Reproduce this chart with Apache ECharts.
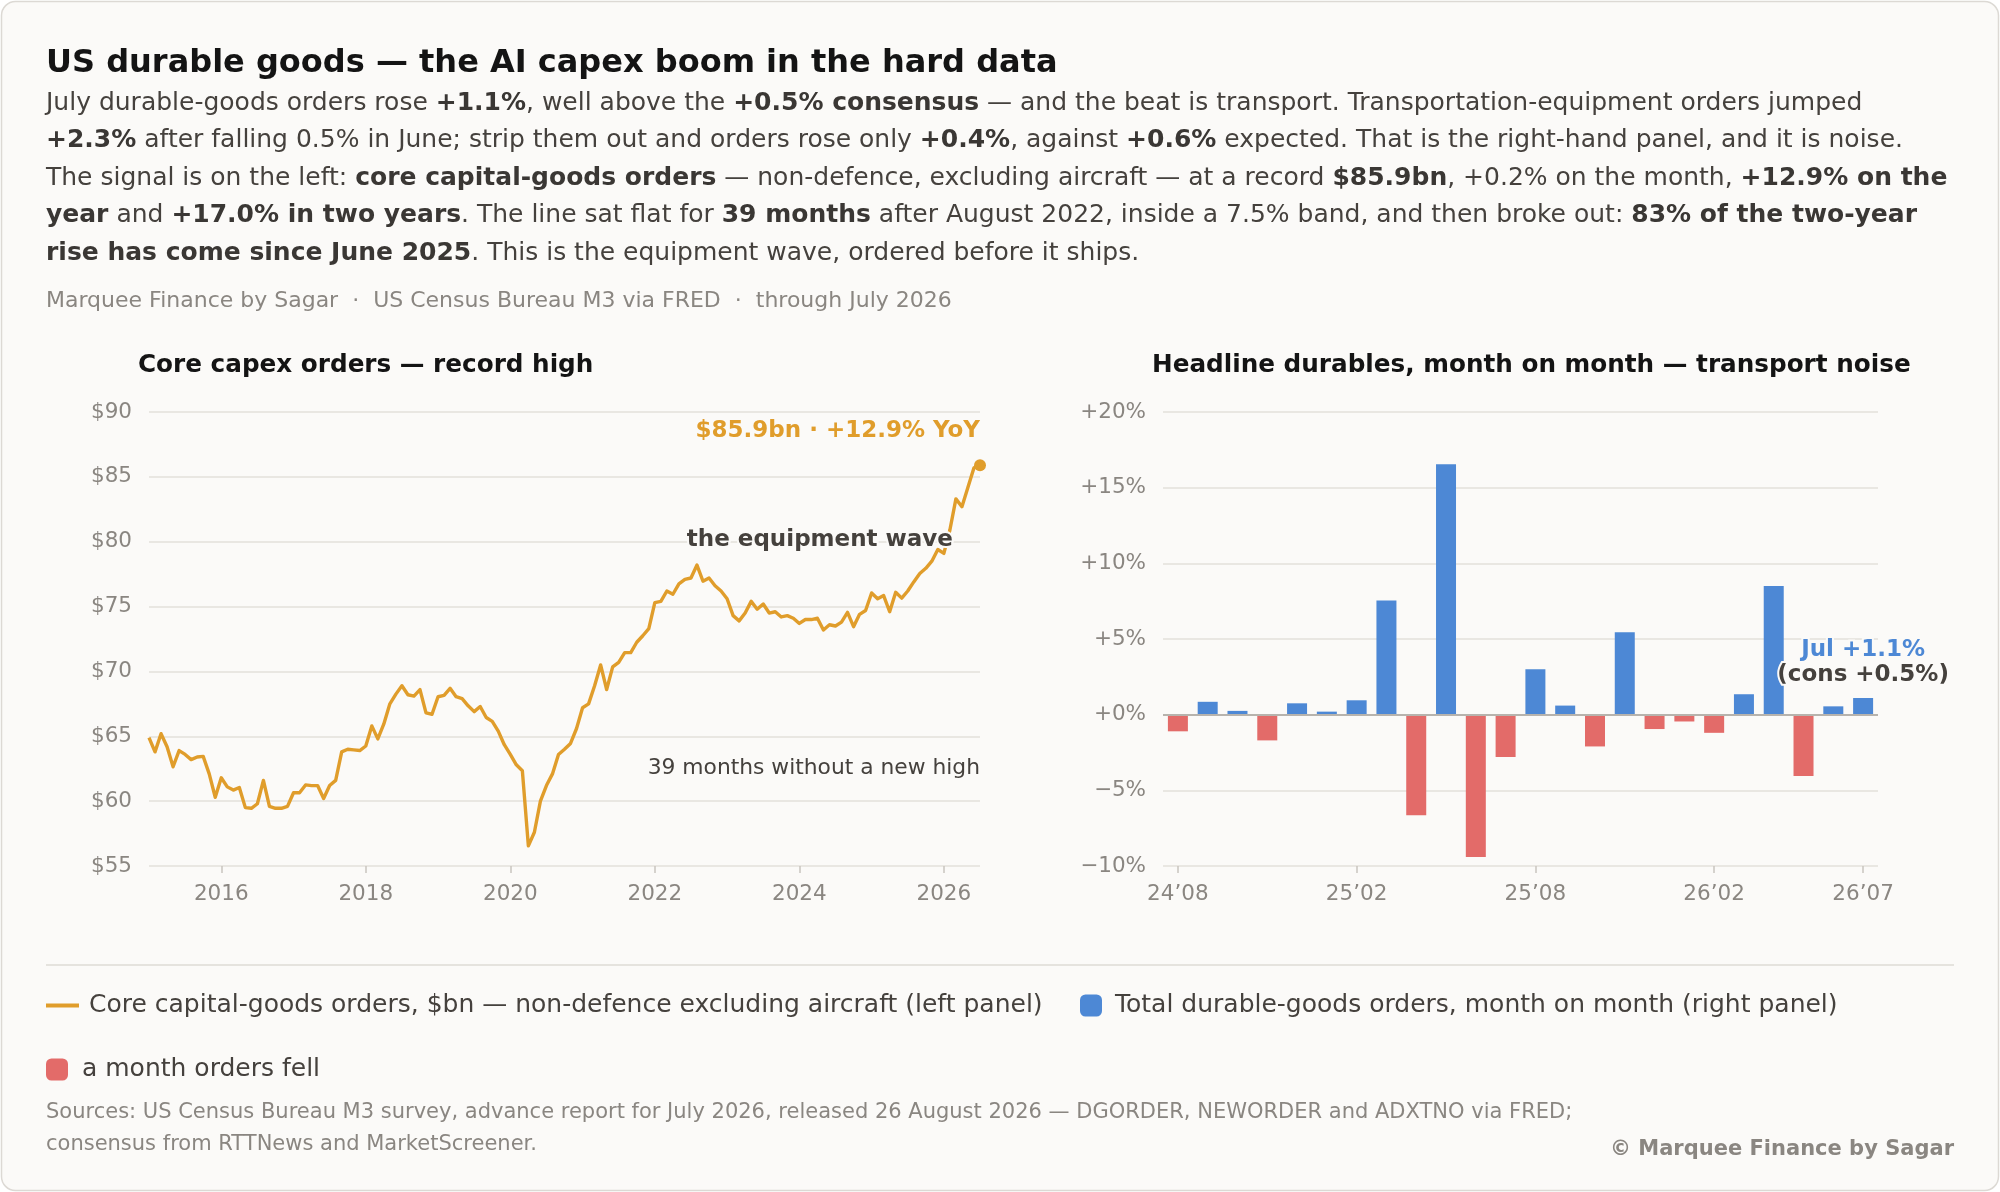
<!DOCTYPE html>
<html>
<head>
<meta charset="utf-8">
<title>US durable goods — the AI capex boom in the hard data</title>
<script src="https://cdn.jsdelivr.net/npm/echarts@6/dist/echarts.min.js"></script>
<style>
  html, body { margin: 0; padding: 0; background: #ffffff; }
  #chart { width: 2000px; height: 1192px; }
</style>
</head>
<body>
<div id="chart"></div>
<script>
// Core capital-goods orders, $bn (non-defence ex aircraft), monthly, Jan of each year onward
const core2015 = [64.9, 63.8, 65.2, 64.2, 62.65, 63.9, 63.6, 63.2, 63.4, 63.45, 62.1, 60.3];
const core2016 = [61.8, 61.1, 60.85, 61.05, 59.5, 59.45, 59.8, 61.6, 59.6, 59.45, 59.45, 59.6];
const core2017 = [60.65, 60.65, 61.25, 61.2, 61.2, 60.2, 61.2, 61.6, 63.8, 64.0, 63.95, 63.9];
const core2018 = [64.25, 65.8, 64.8, 65.95, 67.5, 68.25, 68.9, 68.2, 68.1, 68.6, 66.8, 66.7];
const core2019 = [68.05, 68.15, 68.7, 68.05, 67.9, 67.35, 66.9, 67.3, 66.45, 66.15, 65.4, 64.35];
const core2020 = [63.6, 62.8, 62.35, 56.55, 57.6, 60.0, 61.2, 62.1, 63.6, 64.0, 64.45, 65.6];
const core2021 = [67.2, 67.5, 68.9, 70.5, 68.6, 70.35, 70.7, 71.45, 71.45, 72.25, 72.75, 73.3];
const core2022 = [75.3, 75.4, 76.2, 75.95, 76.75, 77.1, 77.2, 78.2, 76.95, 77.2, 76.6, 76.2];
const core2023 = [75.6, 74.3, 73.9, 74.5, 75.4, 74.8, 75.2, 74.5, 74.6, 74.2, 74.3, 74.1];
const core2024 = [73.7, 74.0, 74.0, 74.1, 73.2, 73.6, 73.5, 73.8, 74.55, 73.45, 74.4, 74.7];
const core2025 = [76.05, 75.6, 75.85, 74.6, 76.1, 75.65, 76.2, 76.9, 77.55, 77.95, 78.5, 79.4];
const core2026 = [79.1, 80.9, 83.3, 82.7, 84.2, 85.7, 85.9];
const coreYears = [core2015, core2016, core2017, core2018, core2019, core2020,
                   core2021, core2022, core2023, core2024, core2025, core2026];

// Headline durable-goods orders, month on month %
const momMonths = ['24\u201908', '24\u201909', '24\u201910', '24\u201911', '24\u201912',
                   '25\u201901', '25\u201902', '25\u201903', '25\u201904', '25\u201905', '25\u201906',
                   '25\u201907', '25\u201908', '25\u201909', '25\u201910', '25\u201911', '25\u201912',
                   '26\u201901', '26\u201902', '26\u201903', '26\u201904', '26\u201905', '26\u201906',
                   '26\u201907'];
const momValues = [-1.1, 0.85, 0.25, -1.7, 0.75, 0.2, 0.95, 7.55, -6.65, 16.55, -9.4, -2.8,
                   3.0, 0.6, -2.1, 5.45, -0.95, -0.45, -1.2, 1.35, 8.5, -4.05, 0.55, 1.1];

const leftTicks = ['2016', '2018', '2020', '2022', '2024', '2026'];

const GOLD = '#e09d2b';
const BLUE = '#4d88d5';
const RED = '#e36b69';
const INK = '#45413d';
const GREY = '#8a8681';
const BG = '#fbfaf8';
const FONT = 'DejaVu Sans';

const LINE_NAME = 'Core capital-goods orders, $bn \u2014 non-defence excluding aircraft (left panel)';
const UP_NAME = 'Total durable-goods orders, month on month (right panel)';
const DOWN_NAME = 'a month orders fell';

// month labels for the left panel
const coreMonths = [];
const coreValues = [];
coreYears.forEach((arr, y) => {
  arr.forEach((v, m) => {
    coreMonths.push((2015 + y) + '-' + String(m + 1).padStart(2, '0'));
    coreValues.push(v);
  });
});

const upBars = momValues.map(v => (v >= 0 ? v : '-'));
const downBars = momValues.map(v => (v < 0 ? v : '-'));

const isYearTick = (i, v) => v.endsWith('-01') && leftTicks.indexOf(v.slice(0, 4)) >= 0;
const isMomTick = (i) => i % 6 === 0 || i === momMonths.length - 1;

const pct = v => (v > 0 ? '+' + v + '%' : v < 0 ? '\u2212' + Math.abs(v) + '%' : '+0%');

const bodyLines = [
  'July durable-goods orders rose {b|+1.1%}, well above the {b|+0.5% consensus} \u2014 and the beat is transport. Transportation-equipment orders jumped',
  '{b|+2.3%} after falling 0.5% in June; strip them out and orders rose only {b|+0.4%}, against {b|+0.6%} expected. That is the right-hand panel, and it is noise.',
  'The signal is on the left: {b|core capital-goods orders} \u2014 non-defence, excluding aircraft \u2014 at a record {b|$85.9bn}, +0.2% on the month, {b|+12.9% on the}',
  '{b|year} and {b|+17.0% in two years}. The line sat flat for {b|39 months} after August 2022, inside a 7.5% band, and then broke out: {b|83% of the two-year}',
  '{b|rise has come since June 2025}. This is the equipment wave, ordered before it ships.'
];

function label(x, y, text, font, fill, align) {
  return {
    type: 'text', x: x, y: y, silent: true,
    style: { text: text, font: font, fill: fill, align: align || 'left', verticalAlign: 'middle' }
  };
}

const graphics = [
  {
    type: 'rect', z: -10, silent: true,
    shape: { x: 1.5, y: 1.5, width: 1997, height: 1189, r: 14 },
    style: { fill: BG, stroke: '#dcd9d4', lineWidth: 1.5 }
  },
  label(46, 64, 'US durable goods \u2014 the AI capex boom in the hard data', 'bold 32px "DejaVu Sans"', '#141414'),
  label(46, 301, 'Marquee Finance by Sagar  \u00b7  US Census Bureau M3 via FRED  \u00b7  through July 2026', '22px "DejaVu Sans"', GREY),
  label(138, 366, 'Core capex orders \u2014 record high', 'bold 24.7px "DejaVu Sans"', '#141414'),
  label(1152, 366, 'Headline durables, month on month \u2014 transport noise', 'bold 24.7px "DejaVu Sans"', '#141414'),
  {
    type: 'line', silent: true,
    shape: { x1: 46, y1: 965, x2: 1954, y2: 965 },
    style: { stroke: '#dedbd6', lineWidth: 1.5 }
  },
  label(46, 1113, 'Sources: US Census Bureau M3 survey, advance report for July 2026, released 26 August 2026 \u2014 DGORDER, NEWORDER and ADXTNO via FRED;', '21px "DejaVu Sans"', GREY),
  label(46, 1145, 'consensus from RTTNews and MarketScreener.', '21px "DejaVu Sans"', GREY),
  label(1954, 1150, '\u00a9 Marquee Finance by Sagar', 'bold 21px "DejaVu Sans"', GREY, 'right')
];

bodyLines.forEach((line, k) => {
  graphics.push({
    type: 'text', x: 46, y: 103 + k * 37.6, silent: true,
    style: {
      text: line, font: '25px "DejaVu Sans"', fill: INK, verticalAlign: 'middle',
      rich: { b: { fontWeight: 'bold', fontSize: 25, fontFamily: FONT, fill: '#3a3734' } }
    }
  });
});

const axisLabelStyle = { color: GREY, fontSize: 21.5, fontFamily: FONT };
const splitStyle = { lineStyle: { color: '#e3e0db', width: 1.5 } };

const option = {
  backgroundColor: '#ffffff',
  animation: false,
  textStyle: { fontFamily: FONT },
  graphic: graphics,
  legend: [
    {
      left: 41, top: 988, data: [{ name: LINE_NAME, icon: 'rect' }],
      itemWidth: 33, itemHeight: 4, selectedMode: false,
      textStyle: { fontSize: 25, color: INK, padding: [0, 0, 0, 5] }
    },
    {
      left: 1075, top: 988, data: [{ name: UP_NAME, icon: 'roundRect' }],
      itemWidth: 22, itemHeight: 22, selectedMode: false,
      textStyle: { fontSize: 25, color: INK, padding: [0, 0, 0, 8] }
    },
    {
      left: 41, top: 1052, data: [{ name: DOWN_NAME, icon: 'roundRect' }],
      itemWidth: 22, itemHeight: 22, selectedMode: false,
      textStyle: { fontSize: 25, color: INK, padding: [0, 0, 0, 9] }
    }
  ],
  grid: [
    { left: 149, right: 1020, top: 412, bottom: 326 },
    { left: 1163, right: 122, top: 412, bottom: 326 }
  ],
  xAxis: [
    {
      gridIndex: 0, type: 'category', data: coreMonths, boundaryGap: false,
      axisLine: { show: false },
      axisTick: { show: true, interval: isYearTick, length: 7, lineStyle: { color: '#c9c5bf', width: 1.5 } },
      axisLabel: Object.assign({ interval: isYearTick, margin: 17, formatter: v => v.slice(0, 4) }, axisLabelStyle),
      splitLine: { show: false }
    },
    {
      gridIndex: 1, type: 'category', data: momMonths, boundaryGap: true,
      axisLine: { show: false, onZero: false },
      axisTick: { show: true, alignWithLabel: true, interval: isMomTick, length: 7, lineStyle: { color: '#c9c5bf', width: 1.5 } },
      axisLabel: Object.assign({ interval: isMomTick, margin: 17 }, axisLabelStyle),
      splitLine: { show: false }
    }
  ],
  yAxis: [
    {
      gridIndex: 0, type: 'value', min: 55, max: 90, interval: 5,
      axisLine: { show: false }, axisTick: { show: false },
      axisLabel: Object.assign({ margin: 17, formatter: v => '$' + v }, axisLabelStyle),
      splitLine: splitStyle
    },
    {
      gridIndex: 1, type: 'value', min: -10, max: 20, interval: 5,
      axisLine: { show: false }, axisTick: { show: false },
      axisLabel: Object.assign({ margin: 17, formatter: pct }, axisLabelStyle),
      splitLine: splitStyle
    }
  ],
  series: [
    {
      name: LINE_NAME, type: 'line', xAxisIndex: 0, yAxisIndex: 0,
      data: coreValues, showSymbol: false, color: GOLD,
      lineStyle: { color: GOLD, width: 3.4, join: 'round' },
      z: 3,
      markPoint: {
        silent: true,
        symbol: 'circle', symbolSize: 12,
        itemStyle: { color: GOLD },
        data: [
          {
            type: 'max',
            label: {
              show: true, position: 'top', distance: 17, align: 'right',
              formatter: '$85.9bn \u00b7 +12.9% YoY',
              color: GOLD, fontSize: 23, fontWeight: 'bold'
            }
          },
          {
            coord: ['2026-02', 80.1], symbolSize: 0,
            label: {
              show: true, position: 'left', distance: -3,
              formatter: 'the equipment wave',
              color: INK, fontSize: 23, fontWeight: 'bold',
              textBorderColor: BG, textBorderWidth: 4
            }
          },
          {
            coord: ['2026-07', 62.5], symbolSize: 0,
            label: {
              show: true, position: 'left', distance: 0,
              formatter: '39 months without a new high',
              color: INK, fontSize: 21.8
            }
          }
        ]
      }
    },
    {
      name: UP_NAME, type: 'bar', xAxisIndex: 1, yAxisIndex: 1, stack: 'mom',
      data: upBars, barWidth: 20, color: BLUE, itemStyle: { color: BLUE },
      markLine: {
        silent: true, symbol: 'none', label: { show: false },
        lineStyle: { color: '#b7b3ad', width: 2, type: 'solid' },
        data: [{ yAxis: 0 }]
      },
      markPoint: {
        silent: true, symbolSize: 0,
        data: [
          {
            coord: [momMonths[momMonths.length - 1], momValues[momValues.length - 1]],
            label: {
              show: true, position: 'top', distance: 10,
              formatter: '{a|Jul +1.1%}\n{c|(cons +0.5%)}',
              rich: {
                a: { color: BLUE, fontSize: 23, fontWeight: 'bold', lineHeight: 25,
                     textBorderColor: BG, textBorderWidth: 4 },
                c: { color: INK, fontSize: 23, fontWeight: 'bold', lineHeight: 25,
                     textBorderColor: BG, textBorderWidth: 4 }
              }
            }
          }
        ]
      }
    },
    {
      name: DOWN_NAME, type: 'bar', xAxisIndex: 1, yAxisIndex: 1, stack: 'mom',
      data: downBars, barWidth: 20, color: RED, itemStyle: { color: RED }
    }
  ]
};

const chart = echarts.init(document.getElementById('chart'), null, { renderer: 'canvas' });
chart.setOption(option);
</script>
</body>
</html>
